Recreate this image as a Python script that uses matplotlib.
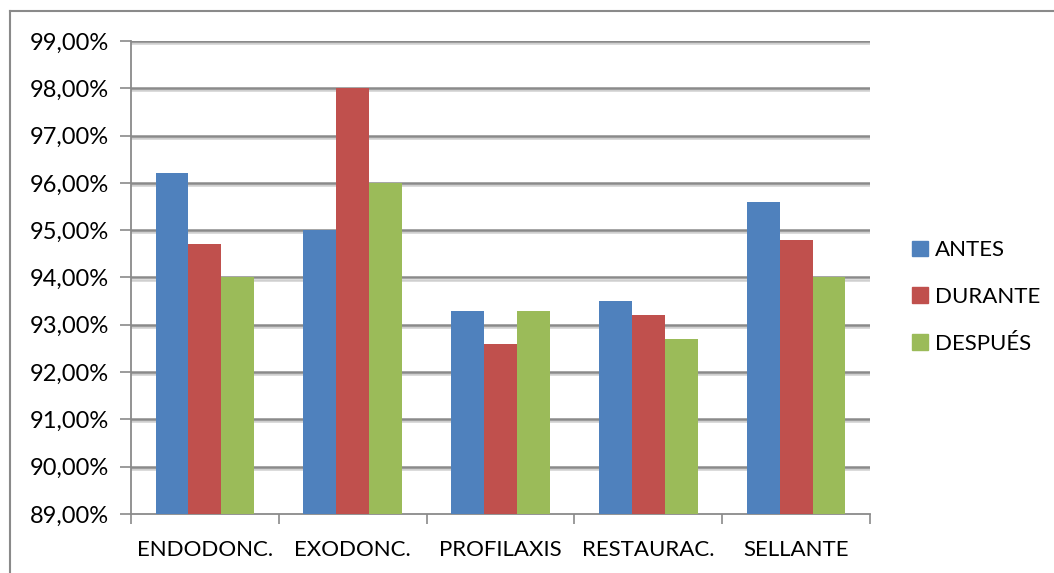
import matplotlib
matplotlib.use("Agg")
import matplotlib.pyplot as plt
import matplotlib.patheffects as pe
from matplotlib.lines import Line2D
from matplotlib.ticker import FuncFormatter, FixedLocator
import numpy as np

categories = ["ENDODONC.", "EXODONC.", "PROFILAXIS", "RESTAURAC.", "SELLANTE"]
series_names = ["ANTES", "DURANTE", "DESPUÉS"]
antes = [96.2, 95.0, 93.3, 93.5, 95.6]
durante = [94.7, 98.0, 92.6, 93.2, 94.8]
despues = [94.0, 96.0, 93.3, 92.7, 94.0]
colors = ["#4F81BD", "#C0504D", "#9BBB59"]

plt.rcParams["font.family"] = ["Lato", "DejaVu Sans"]

fig = plt.figure(figsize=(10.54, 5.73), dpi=100)
ax = fig.add_axes([131 / 1054, 1 - 514 / 573, (870 - 131) / 1054, (514 - 41) / 573])

x = np.arange(len(categories))
width = 1 / 4.5
for i, (vals, name, c) in enumerate(zip([antes, durante, despues], series_names, colors)):
    ax.bar(x + (i - 1) * width, vals, width=width, color=c, label=name, zorder=3)

ax.set_ylim(89, 99)
ax.set_xlim(-0.5, len(categories) - 0.5)
yticks = np.arange(89, 100, 1)
ax.set_yticks(yticks)
ax.yaxis.set_major_formatter(FuncFormatter(lambda v, p: f"{v:.2f}".replace(".", ",") + "%"))

# gridlines with a soft shadow underneath
for yv in yticks[1:]:
    ax.axhline(yv, color="#8a8a8a", lw=1.8, zorder=1,
               path_effects=[pe.SimpleLineShadow(offset=(0, -1.5), shadow_color="#a0a0a0", alpha=0.5),
                             pe.Normal()])

# category ticks sit on the boundaries between groups
ax.set_xticks(x)
ax.set_xticklabels(categories)
ax.tick_params(axis="x", length=0, pad=19, labelsize=16)
ax.xaxis.set_minor_locator(FixedLocator(np.arange(-0.5, len(categories), 1)))
ax.tick_params(axis="x", which="minor", length=7, width=1.2, color="#8a8a8a", direction="out")
ax.tick_params(axis="y", length=8, width=1.2, color="#8a8a8a", pad=8, labelsize=17)

for s in ["top", "right"]:
    ax.spines[s].set_visible(False)
for s in ["left", "bottom"]:
    ax.spines[s].set_color("#8a8a8a")
    ax.spines[s].set_linewidth(1.3)
ax.set_ylim(89, 99)

handles = [plt.Rectangle((0, 0), 1, 1, color=c) for c in colors]
fig.legend(handles, series_names, loc="center left", bbox_to_anchor=(912 / 1054, 1 - 297 / 573),
           frameon=False, fontsize=16, handlelength=0.72, handleheight=0.72,
           labelspacing=1.2, handletextpad=0.3, borderpad=0, borderaxespad=0)

# outer chart frame
fig.add_artist(Line2D([9.5 / 1054, 9.5 / 1054], [0, 1 - 10.5 / 573], transform=fig.transFigure,
                      color="#8a8a8a", lw=1.5))
fig.add_artist(Line2D([9.5 / 1054, 1], [1 - 10.5 / 573, 1 - 10.5 / 573], transform=fig.transFigure,
                      color="#8a8a8a", lw=1.5))

fig.savefig("out.png", dpi=100)
